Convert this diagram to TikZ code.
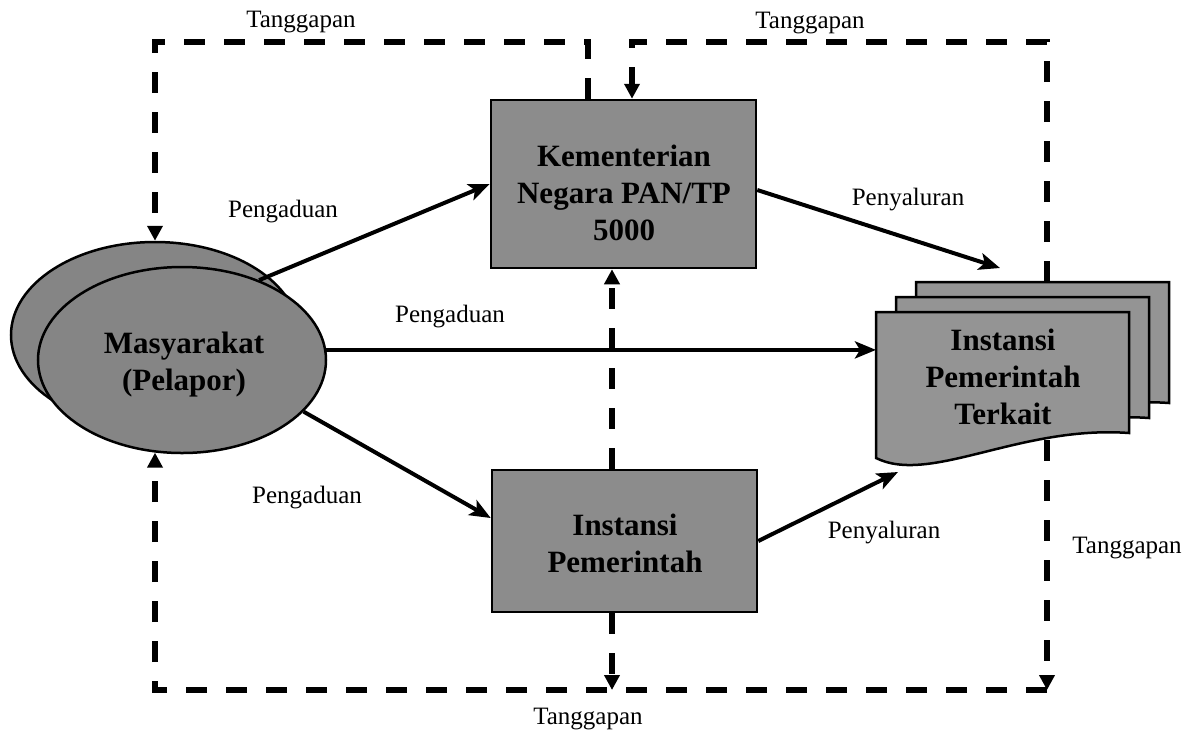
\documentclass[tikz,border=0pt]{standalone}
\usepackage{fontspec}
\setmainfont{Liberation Serif}
\usetikzlibrary{arrows.meta,shapes.geometric}
\definecolor{boxgray}{gray}{0.55}
\definecolor{ellgray}{gray}{0.52}
\definecolor{docgray}{gray}{0.58}
\begin{document}
\begin{tikzpicture}[x=1pt,y=-1pt,
  lbl/.style={font=\fontsize{25}{28}\selectfont, inner sep=0pt, anchor=base},
  ttl/.style={font=\fontsize{31}{37}\selectfont\bfseries, align=center, inner sep=0pt},
  box/.style={draw=black, line width=2.5pt, fill=boxgray, inner sep=0pt},
  ell/.style={ellipse, draw=black, line width=2.5pt, fill=ellgray, inner sep=0pt,
              minimum width=288pt, minimum height=186pt},
  doc/.style={draw=black, line width=2.5pt, fill=docgray},
  flow/.style={line width=4pt, -{Stealth[length=21pt,width=17pt,inset=5pt]}},
  resp/.style={line width=5.5pt, dash pattern=on 21pt off 19pt},
  resptip/.style={resp, -{Triangle[length=15pt,width=15pt]}},
]
\useasboundingbox (0,0) rectangle (1202,732);
\fill[white] (0,0) rectangle (1202,732);

% Masyarakat ellipses
\node[ell] (back) at (155,335) {};
\node[ell] (front) at (182,360) {};
\node[ttl] (frontT) at (184,365) {Masyarakat\\(Pelapor)};

% boxes
\node[box, minimum width=265pt, minimum height=168pt] (km) at (623.5,184) {};
\node[ttl] (kmT) at (624,193) {Kementerian\\Negara PAN/TP\\5000};
\node[box, minimum width=265pt, minimum height=142pt] (ip) at (624.5,541) {};
\node[ttl] (ipT) at (625,543) {Instansi\\Pemerintah};

% document stack
\foreach \dx/\dy in {40/30,20/15,0/0}
  \draw[doc, shift={(876+\dx,312-\dy)}]
    (0,0) -- (253,0) -- (253,121) .. controls (144,113) and (54,173) .. (0,146) -- cycle;
\node[ttl] (tk) at (1003,377) {Instansi\\Pemerintah\\Terkait};

% connector end points
\coordinate (tkL) at (876,350);
\coordinate (tkT) at (1047,282);
\coordinate (tkB) at (1047,440);
\coordinate (tkKm) at (1000,268);
\coordinate (tkIp) at (898,472);
\coordinate (br) at (1047,690);
\coordinate (bl) at (155,690);
\coordinate (tl) at (155,42);
\coordinate (tr) at (632,42);
\coordinate (kmA) at ([xshift=-35.5pt]km.north);
\coordinate (kmB) at ([xshift=8.5pt]km.north);
\coordinate (ipN) at ([xshift=-12.5pt]ip.north);
\coordinate (ipS) at ([xshift=-12.5pt]ip.south);

% dashed response lines
\draw[resptip] (kmA) |- (tl) -- (back.north);
\draw[resptip] (tkT) |- (tr) -- (kmB);
\draw[resptip] (tkB) -- (br);
\draw[resptip] (br) -- (bl) -- (bl |- front.-106);
\draw[resptip] (ipS) -- (ipS |- bl);
\draw[resptip] (ipN) -- (ipN |- km.south);

% solid flow arrows
\draw[flow] (front.46) -- (km.west);
\draw[flow] (front.4) -- (front.4 -| tkL);
\draw[flow] (front.-23) -- ([yshift=23pt]ip.west);
\draw[flow] ([yshift=-6pt]km.east) -- (tkKm);
\draw[flow] (ip.east) -- (tkIp);

% labels
\node[lbl] (t1) at (301,27) {Tanggapan};
\node[lbl] (t2) at (810,28) {Tanggapan};
\node[lbl] (t3) at (1127,553) {Tanggapan};
\node[lbl] (t4) at (588,724) {Tanggapan};
\node[lbl] (p1) at (283,217) {Pengaduan};
\node[lbl] (p2) at (450,322) {Pengaduan};
\node[lbl] (p3) at (307,503) {Pengaduan};
\node[lbl] (s1) at (908,205) {Penyaluran};
\node[lbl] (s2) at (884,538) {Penyaluran};
\end{tikzpicture}
\end{document}
